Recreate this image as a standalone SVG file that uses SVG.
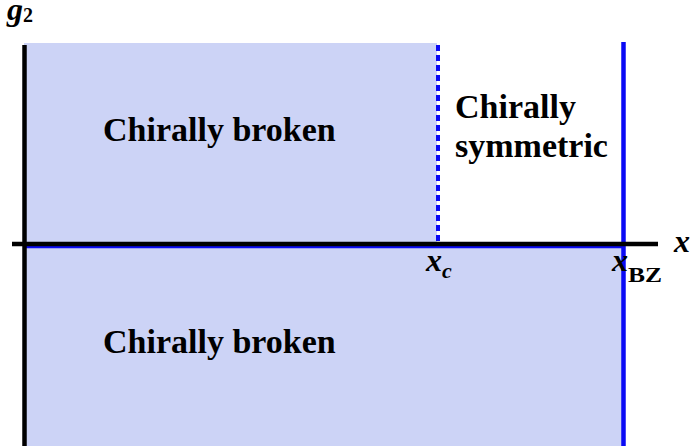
<svg xmlns="http://www.w3.org/2000/svg" width="692" height="446" viewBox="0 0 692 446">
<style>
.region{fill:#CCD3F6;stroke:none}
.lbl{font-family:'Liberation Serif','Times New Roman',serif;font-weight:bold;fill:#000}
.big{font-size:34px}
.it{font-style:italic}
.axis{stroke:#000;stroke-width:4.5;fill:none}
.blue{stroke:#0A0AF5;fill:none}
</style>
<rect width="692" height="446" fill="#fff"/>
<g id="upper-broken">
<rect class="region" x="24" y="43" width="413" height="201"/>
<text class="lbl big" x="103" y="141">Chirally broken</text>
</g>
<g id="lower-broken">
<rect class="region" x="24" y="244" width="599" height="202"/>
<text class="lbl big" x="103" y="353">Chirally broken</text>
</g>
<g id="symmetric">
<text class="lbl big" x="455" y="118">Chirally</text>
<text class="lbl big" x="455" y="157">symmetric</text>
</g>
<g id="connectors">
<line class="blue" x1="24" y1="247" x2="623" y2="247" stroke-width="2.5"/>
<line class="blue" x1="438" y1="45" x2="438" y2="242" stroke-width="4" stroke-dasharray="6 4"/>
<line class="blue" x1="623.5" y1="42" x2="623.5" y2="446" stroke-width="4.5"/>
<line class="axis" x1="12" y1="244" x2="658" y2="244"/>
<line class="axis" x1="24.5" y1="45" x2="24.5" y2="446"/>
</g>
<g id="axis-labels">
<text class="lbl" x="7" y="20" font-size="32"><tspan class="it">g</tspan><tspan font-size="20" dy="2">2</tspan></text>
<text class="lbl it" x="674" y="252" font-size="32">x</text>
<text class="lbl" x="426" y="271" font-size="32"><tspan class="it">x</tspan><tspan class="it" font-size="22" dy="7">c</tspan></text>
<text class="lbl it" x="612" y="271" font-size="32">x</text>
<text class="lbl" x="628" y="282" font-size="21" textLength="34" lengthAdjust="spacingAndGlyphs">BZ</text>
</g>
</svg>
